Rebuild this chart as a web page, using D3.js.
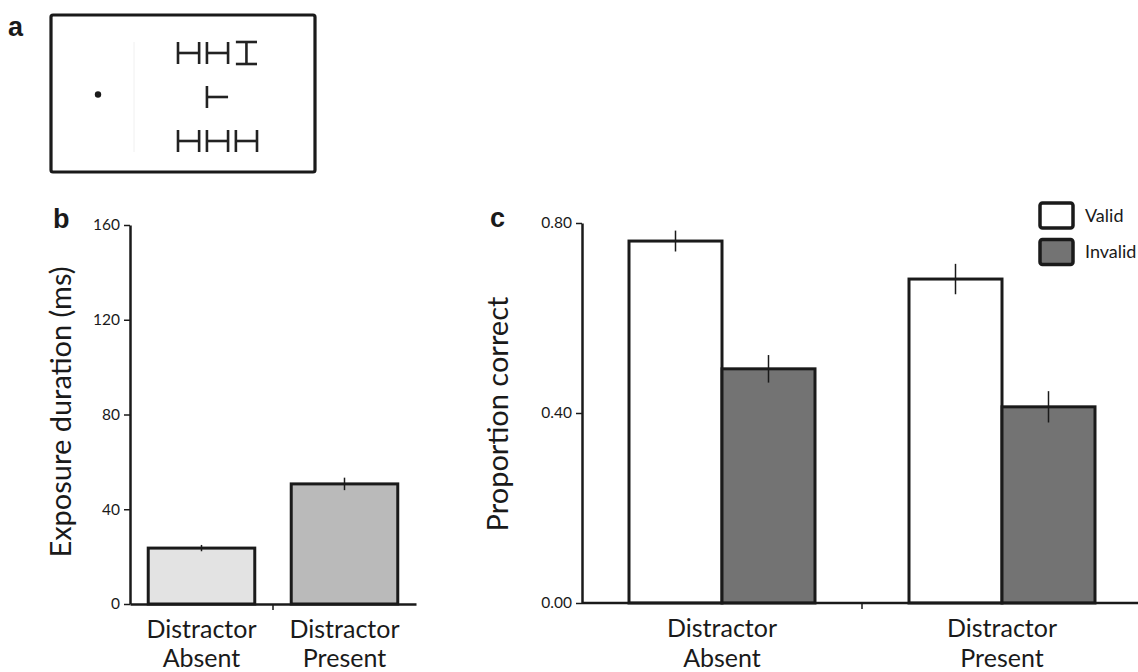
<!DOCTYPE html>
<html>
<head>
<meta charset="utf-8">
<script src="https://cdn.jsdelivr.net/npm/d3@7"></script>
<style>
  html, body { margin: 0; padding: 0; background: #fff; }
  svg { display: block; }
  text { font-family: Lato, "Open Sans", sans-serif; fill: #1a1a1a; }
  .panel { font-family: "Liberation Sans", Arial, sans-serif; font-weight: bold; }
</style>
</head>
<body>
<svg id="chart" width="1138" height="672"></svg>
<script>
// ---------- DATA ----------
const conditions = ["Distractor Absent", "Distractor Present"];
// Panel b: exposure duration (ms)
const exposureMs = [23.6, 50.7];
const exposureErr = [0.7, 2.0];
const exposureTicks = [0, 40, 80, 120, 160];
// Panel c: proportion correct
const cueSeries = ["Valid", "Invalid"];
const validProp = [0.762, 0.682];
const invalidProp = [0.493, 0.413];
const validErr = [0.022, 0.032];
const invalidErr = [0.029, 0.033];
const propTicks = [0.00, 0.40, 0.80];
// Panel a: stimulus display (letter shapes in a 3x3 grid)
const stimRows = [["H", "H", "I"], [null, "T", null], ["H", "H", "H"]];

// ---------- STYLE ----------
const ink = "#1a1a1a";
const exposureColors = ["#e3e3e3", "#bababa"];
const cueColors = { Valid: "#ffffff", Invalid: "#737373" };
const tickFont = 15.5, catFont = 25, titleFont = 29, panelFont = 27;

const svg = d3.select("#chart");

// ---------- PANEL A ----------
const gA = svg.append("g");
gA.append("text").attr("class", "panel").attr("x", 8).attr("y", 36).attr("font-size", panelFont).text("a");
gA.append("rect").attr("x", 51).attr("y", 15).attr("width", 264).attr("height", 157)
  .attr("rx", 2).attr("fill", "none").attr("stroke", ink).attr("stroke-width", 3.2);
gA.append("line").attr("x1", 134).attr("x2", 134).attr("y1", 42).attr("y2", 152)
  .attr("stroke", "#f0f0f0").attr("stroke-width", 1);
gA.append("circle").attr("cx", 98).attr("cy", 94.5).attr("r", 3.2).attr("fill", ink);

const colX = d3.scaleBand().domain([0, 1, 2]).range([178, 257]).paddingInner(0.27);
const rowY = d3.scaleBand().domain([0, 1, 2]).range([42, 152]).paddingInner(0.5);
const lw = 2.6;
stimRows.forEach((row, ri) => {
  row.forEach((ch, ci) => {
    if (!ch) return;
    const x0 = colX(ci), x1 = x0 + colX.bandwidth();
    const y0 = rowY(ri), y1 = y0 + rowY.bandwidth();
    const xm = (x0 + x1) / 2, ym = (y0 + y1) / 2;
    let segs = [];
    if (ch === "H") segs = [[x0, y0, x0, y1], [x1, y0, x1, y1], [x0, ym, x1, ym]];
    if (ch === "I") segs = [[x0, y0, x1, y0], [x0, y1, x1, y1], [xm, y0, xm, y1]];
    if (ch === "T") segs = [[x0, y0, x0, y1], [x0, ym, x1, ym]];
    segs.forEach(s => gA.append("line")
      .attr("x1", s[0]).attr("y1", s[1]).attr("x2", s[2]).attr("y2", s[3])
      .attr("stroke", "#222").attr("stroke-width", lw));
  });
});

// ---------- PANEL B ----------
const gB = svg.append("g");
gB.append("text").attr("class", "panel").attr("x", 53).attr("y", 228).attr("font-size", panelFont).text("b");
const yB = d3.scaleLinear().domain([0, 160]).range([604, 225]);
const xB = d3.scaleBand().domain(conditions).range([130, 416]);
const bwB = xB.bandwidth() * 0.745;

gB.append("g").attr("transform", "translate(130,0)")
  .call(d3.axisLeft(yB).tickValues(exposureTicks).tickFormat(d3.format("d")).tickSize(6).tickPadding(4).tickSizeOuter(0))
  .call(g => g.select(".domain").attr("stroke", ink).attr("stroke-width", 2.5))
  .call(g => g.selectAll(".tick line").attr("stroke", ink).attr("stroke-width", 1.5))
  .call(g => g.selectAll(".tick text").attr("font-size", tickFont).attr("font-family", "Lato, sans-serif").attr("fill", ink));

gB.selectAll("rect.bar").data(conditions).join("rect").attr("class", "bar")
  .attr("x", d => xB(d) + (xB.bandwidth() - bwB) / 2)
  .attr("width", bwB)
  .attr("y", (d, i) => yB(exposureMs[i]))
  .attr("height", (d, i) => yB(0) - yB(exposureMs[i]))
  .attr("fill", (d, i) => exposureColors[i])
  .attr("stroke", ink).attr("stroke-width", 3);

gB.selectAll("line.err").data(conditions).join("line").attr("class", "err")
  .attr("x1", d => xB(d) + xB.bandwidth() / 2).attr("x2", d => xB(d) + xB.bandwidth() / 2)
  .attr("y1", (d, i) => yB(exposureMs[i] + exposureErr[i]) - 1.5)
  .attr("y2", (d, i) => yB(exposureMs[i] - exposureErr[i]) + 1.5)
  .attr("stroke", ink).attr("stroke-width", 1.5);

gB.append("g").attr("transform", "translate(0,604)")
  .call(d3.axisBottom(xB).tickValues([]).tickSizeOuter(0))
  .call(g => g.select(".domain").attr("stroke", ink).attr("stroke-width", 2.5));
gB.append("line").attr("x1", xB(conditions[1])).attr("x2", xB(conditions[1]))
  .attr("y1", 604).attr("y2", 610).attr("stroke", ink).attr("stroke-width", 1.5);

conditions.forEach(c => {
  const parts = c.split(" ");
  const cx = xB(c) + xB.bandwidth() / 2;
  gB.append("text").attr("x", cx).attr("y", 638).attr("text-anchor", "middle").attr("font-size", catFont).text(parts[0]);
  gB.append("text").attr("x", cx).attr("y", 667).attr("text-anchor", "middle").attr("font-size", catFont).text(parts[1]);
});
gB.append("text").attr("transform", "translate(71,412) rotate(-90)")
  .attr("text-anchor", "middle").attr("font-size", titleFont).text("Exposure duration (ms)");

// ---------- PANEL C ----------
const gC = svg.append("g");
gC.append("text").attr("class", "panel").attr("x", 490).attr("y", 227).attr("font-size", panelFont).text("c");
const yC = d3.scaleLinear().domain([0, 0.8]).range([603, 223]);
const xC = d3.scaleBand().domain(conditions).range([582, 1142]);
const xC1 = d3.scaleBand().domain(cueSeries).range([47, 233]);

gC.append("g").attr("transform", "translate(582,0)")
  .call(d3.axisLeft(yC).tickValues(propTicks).tickFormat(d3.format(".2f")).tickSize(6).tickPadding(4).tickSizeOuter(0))
  .call(g => g.select(".domain").attr("stroke", ink).attr("stroke-width", 2.5))
  .call(g => g.selectAll(".tick line").attr("stroke", ink).attr("stroke-width", 1.5))
  .call(g => g.selectAll(".tick text").attr("font-size", tickFont).attr("font-family", "Lato, sans-serif").attr("fill", ink));

const seriesVals = { Valid: validProp, Invalid: invalidProp };
const seriesErr = { Valid: validErr, Invalid: invalidErr };
const cells = [];
conditions.forEach((c, i) => cueSeries.forEach(s => cells.push({ c, s, v: seriesVals[s][i], e: seriesErr[s][i] })));

gC.selectAll("rect.bar").data(cells).join("rect").attr("class", "bar")
  .attr("x", d => xC(d.c) + xC1(d.s))
  .attr("width", xC1.bandwidth())
  .attr("y", d => yC(d.v))
  .attr("height", d => yC(0) - yC(d.v))
  .attr("fill", d => cueColors[d.s])
  .attr("stroke", ink).attr("stroke-width", 3);

gC.selectAll("line.err").data(cells).join("line").attr("class", "err")
  .attr("x1", d => xC(d.c) + xC1(d.s) + xC1.bandwidth() / 2)
  .attr("x2", d => xC(d.c) + xC1(d.s) + xC1.bandwidth() / 2)
  .attr("y1", d => yC(d.v + d.e)).attr("y2", d => yC(d.v - d.e))
  .attr("stroke", ink).attr("stroke-width", 1.5);

gC.append("line").attr("x1", 582).attr("x2", 1138).attr("y1", 603).attr("y2", 603)
  .attr("stroke", ink).attr("stroke-width", 2.5);
gC.append("line").attr("x1", xC(conditions[1])).attr("x2", xC(conditions[1]))
  .attr("y1", 603).attr("y2", 609).attr("stroke", ink).attr("stroke-width", 1.5);

conditions.forEach(c => {
  const parts = c.split(" ");
  const cx = xC(c) + xC.bandwidth() / 2;
  gC.append("text").attr("x", cx).attr("y", 637).attr("text-anchor", "middle").attr("font-size", catFont).text(parts[0]);
  gC.append("text").attr("x", cx).attr("y", 667).attr("text-anchor", "middle").attr("font-size", catFont).text(parts[1]);
});
gC.append("text").attr("transform", "translate(508,414) rotate(-90)")
  .attr("text-anchor", "middle").attr("font-size", titleFont).text("Proportion correct");

// Legend
const leg = gC.append("g");
cueSeries.forEach((s, i) => {
  const y = 203 + i * 36.5;
  leg.append("rect").attr("x", 1040).attr("y", y).attr("width", 33).attr("height", 25).attr("rx", 2.5)
    .attr("fill", cueColors[s]).attr("stroke", ink).attr("stroke-width", 3.5);
  leg.append("text").attr("x", 1085).attr("y", y + 12.5).attr("dy", "0.35em").attr("font-size", 18).text(s);
});
</script>
</body>
</html>
